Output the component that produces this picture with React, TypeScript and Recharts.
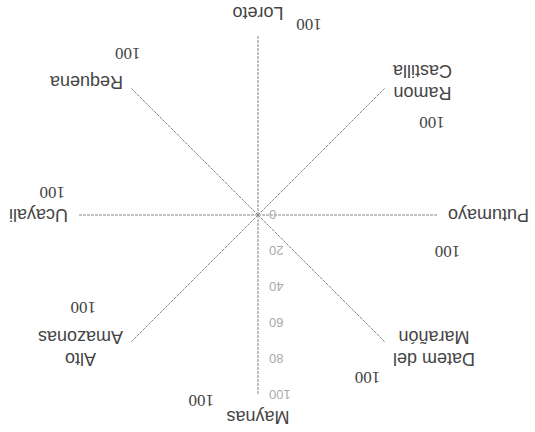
import { RadarChart, Radar, PolarGrid, PolarAngleAxis, PolarRadiusAxis } from 'recharts';

// provinces, clockwise from the top of the chart
const provinces = ['Maynas', 'Alto Amazonas', 'Ucayali', 'Requena', 'Loreto', 'Ramon Castilla', 'Putumayo', 'Datem del Marañón'];
const provinceLines = [['Maynas'], ['Alto', 'Amazonas'], ['Ucayali'], ['Requena'], ['Loreto'], ['Ramon', 'Castilla'], ['Putumayo'], ['Datem del', 'Marañón']];
const coverage = [100, 100, 100, 100, 100, 100, 100, 100];
const radiusTicks = [0, 20, 40, 60, 80, 100];

const W = 535;
const H = 432;
const CX = 277;
const CY = 217;
const R = 180;
const LABEL_FONT = '18px "Liberation Sans"';

// nudges for the "100" labels (degrees clockwise, px outward)
const valueTurn = [-17, -17, -6, -6, -15, -17, -11, -11];
const valueGap = [14, 18, 27, 27, 17, 17, 13, 16];

const data = provinces.map((name, i) => ({ name, value: coverage[i] }));

let ctx: CanvasRenderingContext2D | null = null;
function textWidth(s: string) {
  if (!ctx) ctx = document.createElement('canvas').getContext('2d');
  if (!ctx) return s.length * 10;
  ctx.font = LABEL_FONT;
  return ctx.measureText(s).width;
}

function AngleTick(props: any) {
  const { x, y, payload, textAnchor } = props;
  const i = provinces.indexOf(payload.value);
  const lines = provinceLines[i] ?? [payload.value];
  const lineH = 22;
  const style = { fontFamily: 'Liberation Sans', fontSize: 18, fill: '#444' };

  if (textAnchor === 'middle') {
    const dir = y < CY ? -1 : 1;
    return (
      <text x={x} y={y + dir * 14} dy="0.35em" textAnchor="middle" {...style}>
        {lines[0]}
      </text>
    );
  }
  const w = Math.max(...lines.map(textWidth));
  const sign = textAnchor === 'start' ? 1 : -1;
  const midX = x + sign * (2 + w / 2);
  const top = y - ((lines.length - 1) * lineH) / 2;
  return (
    <text textAnchor="middle" {...style}>
      {lines.map((l: string, k: number) => (
        <tspan key={k} x={midX} y={top + k * lineH} dy="0.35em">
          {l}
        </tspan>
      ))}
    </text>
  );
}

function RadiusTick({ x, y, payload }: any) {
  return (
    <text x={x - 11} y={y} dy="0.35em" textAnchor="end" fontFamily="Liberation Sans" fontSize={13} fill="#aaa">
      {payload.value}
    </text>
  );
}

function ValueLabel(props: any) {
  const { cx, cy, index, payload } = props;
  const ang = Math.atan2(CY - cy, cx - CX) + (valueTurn[index] * Math.PI) / 180;
  const r = Math.hypot(cx - CX, cy - CY) + valueGap[index];
  const v = payload?.value ?? coverage[index];
  return (
    <text
      key={`v${index}`}
      x={CX + r * Math.cos(ang)}
      y={CY - r * Math.sin(ang)}
      dy="0.35em"
      textAnchor="middle"
      fontFamily="Liberation Serif"
      fontSize={17}
      fill="#444"
    >
      {v}
    </text>
  );
}

export default function App() {
  return (
    <div style={{ position: 'absolute', left: 0, top: 0, width: W, height: H, background: '#fff', transform: 'rotate(180deg)' }}>
      <RadarChart width={W} height={H} data={data} cx={CX} cy={CY} outerRadius={R} margin={{ top: 0, right: 0, bottom: 0, left: 0 }}>
        <PolarGrid polarRadius={[]} stroke="#888" strokeDasharray="3 1" />
        <PolarAngleAxis dataKey="name" tick={AngleTick} tickLine={false} axisLine={false} />
        <PolarRadiusAxis angle={90} domain={[0, 100]} ticks={radiusTicks as any} tickCount={6} axisLine={false} tickLine={false} tick={RadiusTick} />
        <Radar dataKey="value" stroke="none" fill="none" dot={ValueLabel} isAnimationActive={false} />
      </RadarChart>
    </div>
  );
}
